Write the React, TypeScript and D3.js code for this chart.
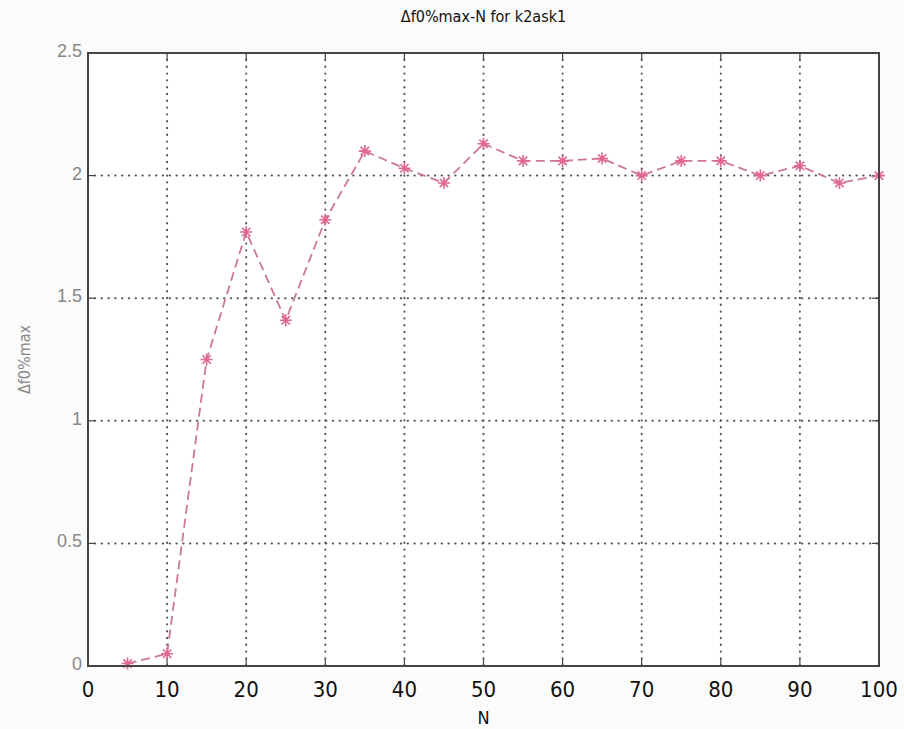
import * as d3 from "d3";
import { useEffect, useRef } from "react";

// values
const nValues = [5, 10, 15, 20, 25, 30, 35, 40, 45, 50, 55, 60, 65, 70, 75, 80, 85, 90, 95, 100];
const dfValues = [0.01, 0.05, 1.25, 1.77, 1.41, 1.82, 2.1, 2.03, 1.97, 2.13, 2.06, 2.06, 2.07, 2.0, 2.06, 2.06, 2.0, 2.04, 1.97, 2.0];
const xTicks = [0, 10, 20, 30, 40, 50, 60, 70, 80, 90, 100];
const yTicks = [0, 0.5, 1, 1.5, 2, 2.5];
const yTickLabels = ["0", "0.5", "1", "1.5", "2", "2.5"];

const W = 904;
const H = 729;
const margin = { top: 53, right: 25, bottom: 63, left: 88 };

const narrow = "'Liberation Sans Narrow', 'DejaVu Sans Condensed', 'Arial Narrow', sans-serif";

const App = () => {
    const ref = useRef(null);

    useEffect(() => {
        const svg = d3.select(ref.current);
        svg.selectAll("*").remove();

        const boundsW = W - margin.left - margin.right;
        const boundsH = H - margin.top - margin.bottom;

        const x = d3.scaleLinear().domain([0, 100]).range([margin.left, margin.left + boundsW]);
        const y = d3.scaleLinear().domain([0, 2.5]).range([margin.top + boundsH, margin.top]);

        svg.append("rect").attr("width", W).attr("height", H).attr("fill", "#fbfbfb");
        svg.append("rect")
            .attr("x", margin.left)
            .attr("y", margin.top)
            .attr("width", boundsW)
            .attr("height", boundsH)
            .attr("fill", "#ffffff");

        // dotted grid
        const grid = svg.append("g")
            .attr("stroke", "#555")
            .attr("stroke-width", 2)
            .attr("stroke-dasharray", "0.4,6.4")
            .attr("stroke-linecap", "round");
        xTicks.slice(1, -1).forEach(t => {
            grid.append("line")
                .attr("x1", x(t)).attr("x2", x(t))
                .attr("y1", margin.top).attr("y2", margin.top + boundsH);
        });
        yTicks.slice(1, -1).forEach(t => {
            grid.append("line")
                .attr("x1", margin.left).attr("x2", margin.left + boundsW)
                .attr("y1", y(t)).attr("y2", y(t));
        });

        // ticks on all four sides, pointing in
        const ticks = svg.append("g").attr("stroke", "#444").attr("stroke-width", 1.2);
        xTicks.forEach(t => {
            ticks.append("line").attr("x1", x(t)).attr("x2", x(t))
                .attr("y1", margin.top + boundsH).attr("y2", margin.top + boundsH - 7);
            ticks.append("line").attr("x1", x(t)).attr("x2", x(t))
                .attr("y1", margin.top).attr("y2", margin.top + 7);
        });
        yTicks.forEach(t => {
            ticks.append("line").attr("x1", margin.left).attr("x2", margin.left + 7)
                .attr("y1", y(t)).attr("y2", y(t));
            ticks.append("line").attr("x1", margin.left + boundsW).attr("x2", margin.left + boundsW - 7)
                .attr("y1", y(t)).attr("y2", y(t));
        });

        // data line
        const line = d3.line()
            .x((d, i) => x(nValues[i]))
            .y(d => y(d));
        svg.append("path")
            .datum(dfValues)
            .attr("d", line)
            .attr("fill", "none")
            .attr("stroke", "#cc7890")
            .attr("stroke-width", 1.8)
            .attr("stroke-dasharray", "9,5");

        // asterisk markers
        const s = 6;
        const d = s * 0.7;
        const star = `M0,${-s}L0,${s}M${-s},0L${s},0M${-d},${-d}L${d},${d}M${-d},${d}L${d},${-d}`;
        svg.append("g")
            .selectAll("path")
            .data(dfValues)
            .enter()
            .append("path")
            .attr("transform", (v, i) => `translate(${x(nValues[i])},${y(v)})`)
            .attr("d", star)
            .attr("fill", "none")
            .attr("stroke", "#e2668e")
            .attr("stroke-width", 1.6);

        // box
        svg.append("rect")
            .attr("x", margin.left)
            .attr("y", margin.top)
            .attr("width", boundsW)
            .attr("height", boundsH)
            .attr("fill", "none")
            .attr("stroke", "#444")
            .attr("stroke-width", 2);

        // x tick labels
        svg.append("g")
            .selectAll("text")
            .data(xTicks)
            .enter()
            .append("text")
            .attr("x", t => x(t))
            .attr("y", margin.top + boundsH + 31)
            .attr("text-anchor", "middle")
            .attr("font-family", narrow)
            .attr("font-size", 22)
            .attr("fill", "#111")
            .text(t => t);

        // y tick labels
        svg.append("g")
            .selectAll("text")
            .data(yTicks)
            .enter()
            .append("text")
            .attr("x", margin.left - 6)
            .attr("y", t => y(t) + 4)
            .attr("text-anchor", "end")
            .attr("font-family", "'Liberation Sans', Arial, sans-serif")
            .attr("font-size", 18)
            .attr("fill", "#888")
            .text((t, i) => yTickLabels[i]);

        // title and axis labels
        svg.append("text")
            .attr("x", x(50))
            .attr("y", 22)
            .attr("text-anchor", "middle")
            .attr("font-family", narrow)
            .attr("font-size", 16)
            .attr("fill", "#111")
            .text("\u0394f0%max-N for k2ask1");

        svg.append("text")
            .attr("x", x(50))
            .attr("y", 724)
            .attr("text-anchor", "middle")
            .attr("font-family", narrow)
            .attr("font-size", 18)
            .attr("fill", "#111")
            .text("N");

        svg.append("text")
            .attr("transform", `translate(30,${y(1.25)}) rotate(-90)`)
            .attr("text-anchor", "middle")
            .attr("font-family", narrow)
            .attr("font-size", 16)
            .attr("fill", "#888")
            .text("\u0394f0%max");
    }, []);

    return (
        <svg ref={ref} width={W} height={H} style={{ position: "absolute", left: 0, top: 0 }}></svg>
    );
};

export default App;
